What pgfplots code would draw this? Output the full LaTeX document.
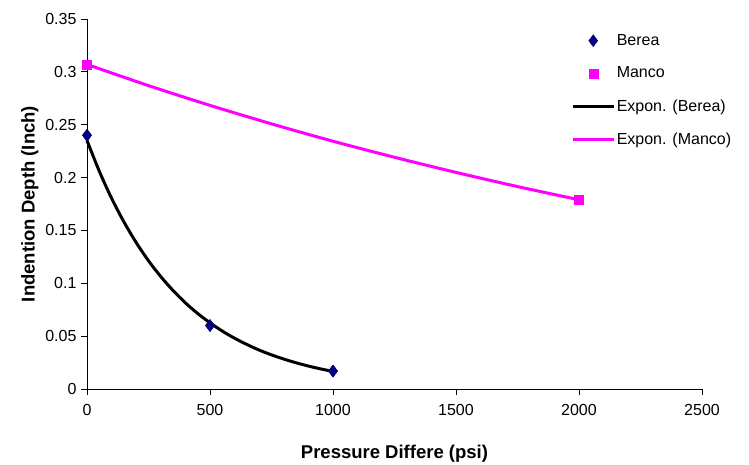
\documentclass[border=0pt]{standalone}
\usepackage{pgfplots}
\pgfplotsset{compat=1.18}
\usepackage{fontspec}
\setmainfont{Liberation Sans}
\definecolor{berea}{RGB}{0,0,128}
\definecolor{manco}{RGB}{255,0,255}
\begin{document}
\begin{tikzpicture}
\useasboundingbox (-87pt,-76pt) rectangle (662pt,389pt);
\begin{axis}[
  at={(0pt,0pt)}, anchor=south west,
  scale only axis, width=615pt, height=370pt,
  xmin=0, xmax=2500, ymin=0, ymax=0.35,
  xtick={0,500,...,2500},
  ytick={0,0.05,0.1,0.15,0.2,0.25,0.3,0.35},
  yticklabels={0,0.05,0.1,0.15,0.2,0.25,0.3,0.35},
  xticklabels={0,500,1000,1500,2000,2500},
  axis x line*=bottom, axis y line*=left,
  axis line style={black, line width=0.9pt},
  tick style={black, line width=0.9pt},
  tick align=outside, major tick length=6pt,
  ticklabel style={font=\fontsize{16}{18}\selectfont},
  xticklabel style={yshift=-6pt},
  yticklabel style={xshift=-1pt},
  xlabel={\textbf{Pressure Differe (psi)}},
  ylabel={\textbf{Indention Depth (Inch)}},
  label style={font=\fontsize{18.5}{20}\selectfont},
  xlabel style={yshift=-22pt},
  ylabel style={yshift=0pt},
  legend style={at={(rel axis cs:0.783,0.9696)}, anchor=north west, draw=none, fill=none,
    font=\fontsize{16}{18}\selectfont, row sep=16pt,
    /tikz/every even column/.append style={column sep=2pt}},
  legend cell align=left,
  legend image code/.code={\draw[mark repeat=2,mark phase=2,#1] plot coordinates {(0pt,0pt) (20pt,0pt) (40pt,0pt)};},
  clip=false,
]
\addplot[only marks, mark=diamond*, mark size=6pt, color=berea] coordinates {(0,0.24) (500,0.06) (1000,0.017)};
\addlegendentry{Berea}
\addplot[only marks, mark=square*, mark size=4.5pt, color=manco] coordinates {(0,0.307) (2000,0.179)};
\addlegendentry{Manco}
\addplot[black, line width=3pt, smooth] coordinates {
(0,0.2351) (50,0.2060) (100,0.1804) (150,0.1581) (200,0.1385) (250,0.1213) (300,0.1063) (350,0.0931) (400,0.0815) (450,0.0714) (500,0.0626) (550,0.0548) (600,0.0480) (650,0.0421) (700,0.0368) (750,0.0323) (800,0.0283) (850,0.0248) (900,0.0217) (950,0.0190) (1000,0.0166)};
\addlegendentry{Expon. (Berea)}
\addplot[manco, line width=3pt, smooth] coordinates {
(0,0.3070) (250,0.2870) (500,0.2683) (750,0.2508) (1000,0.2344) (1250,0.2192) (1500,0.2049) (1750,0.1915) (2000,0.1790)};
\addlegendentry{Expon. (Manco)}
\addplot[forget plot, only marks, mark=diamond*, mark size=6pt, color=berea] coordinates {(0,0.24) (500,0.06) (1000,0.017)};
\addplot[forget plot, only marks, mark=square*, mark size=4.5pt, color=manco] coordinates {(0,0.307) (2000,0.179)};
\end{axis}
\end{tikzpicture}
\end{document}
